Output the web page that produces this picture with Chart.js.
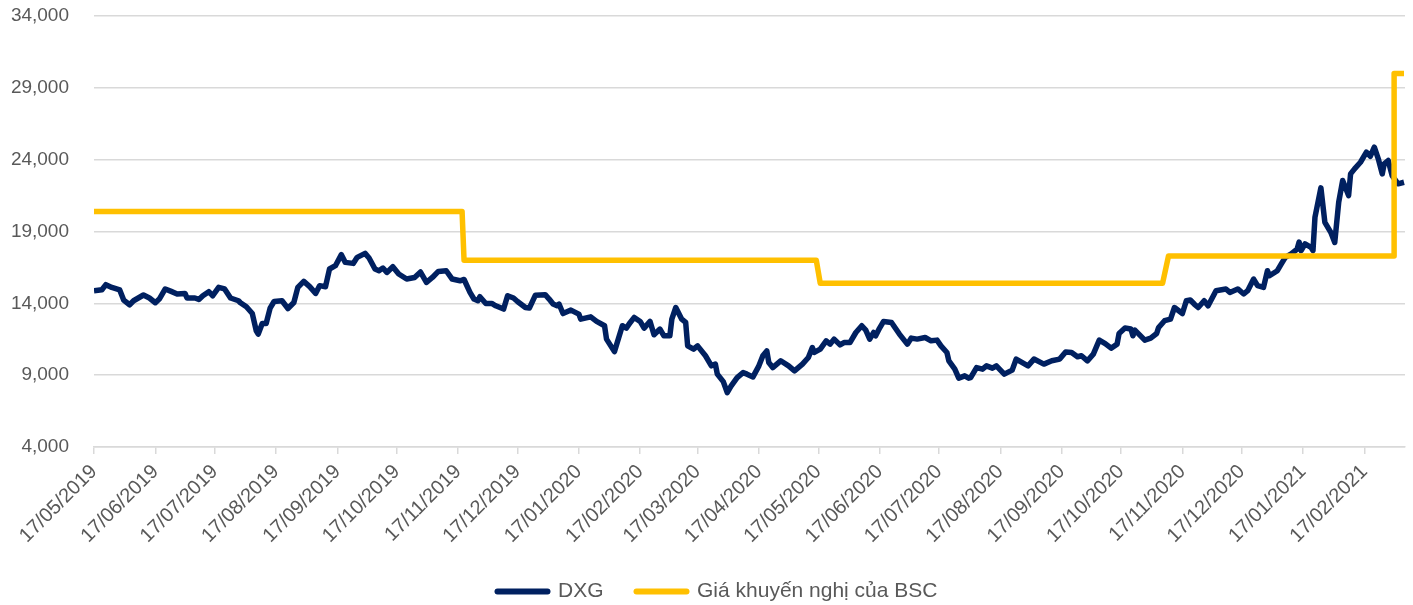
<!DOCTYPE html>
<html>
<head>
<meta charset="utf-8">
<script src="https://cdn.jsdelivr.net/npm/chart.js@4.4.1/dist/chart.umd.min.js"></script>
<style>
  html, body { margin:0; padding:0; background:#fff; }
  #wrap { position:relative; width:1413px; height:605px; }
</style>
</head>
<body>
<div id="wrap"><canvas id="chart"></canvas></div>
<script>
// x values are days counted from 17/05/2019
const dxgDays = [
  0,4,6,9,13,15,18,20,25,28,
  31,33,36,39,42,46,47,51,53,55,
  58,60,63,66,69,73,74,77,80,82,
  83,85,87,89,91,95,98,101,103,106,
  109,112,114,117,119,122,125,127,131,133,
  137,139,142,144,146,148,151,154,158,162,
  165,168,171,174,178,181,185,187,190,192,
  194,195,198,201,203,207,209,212,214,218,
  220,223,228,230,232,234,235,237,241,245,
  246,251,254,258,259,263,267,269,271,273,
  276,278,281,283,286,288,291,292,294,297,
  299,300,303,305,309,312,314,315,318,320,
  322,325,328,330,333,336,338,340,341,343,
  347,351,354,358,361,363,364,367,370,372,
  374,377,379,382,385,388,390,392,394,395,
  397,399,403,407,411,413,416,420,423,426,
  428,431,432,435,437,440,442,443,446,449,
  451,454,456,460,464,466,472,475,480,484,
  488,491,494,497,499,502,505,508,511,514,
  517,518,521,524,525,526,531,534,537,538,
  541,544,546,550,552,554,556,558,561,563,
  567,572,574,578,581,583,586,588,591,593,
  594,598,600,602,605,608,609,610,612,615,
  616,617,620,622,625,627,629,631,634,635,
  637,640,643,645,647,649,651,652,654,656,
  659,662
];
const dxgPrices = [
  14880,14950,15300,15110,14930,14230,13900,14180,14580,14370,
  14040,14300,15000,14830,14650,14690,14370,14370,14270,14530,
  14810,14530,15110,15000,14370,14180,14040,13760,13290,12090,
  11860,12600,12600,13670,14130,14180,13640,14060,15110,15530,
  15160,14690,15230,15160,16390,16620,17390,16850,16780,17200,
  17480,17160,16390,16270,16460,16150,16550,16040,15690,15800,
  16180,15460,15800,16220,16270,15690,15570,15660,14760,14300,
  14180,14460,13990,13990,13830,13600,14530,14370,14130,13710,
  13670,14560,14600,14300,13950,13830,13950,13290,13530,13250,
  12900,13060,12740,12440,11510,10640,12440,12280,12670,13020,
  12740,12280,12740,11810,12210,11740,11740,12900,13710,12900,
  12670,11040,10810,11040,10350,9650,9770,9070,8550,7790,
  8250,8830,9180,9070,8880,9650,10350,10690,9880,9530,
  10000,9650,9300,9770,10230,10920,10580,10810,11390,11160,
  11510,11110,11270,11270,11970,12440,12140,11510,11970,11740,
  12280,12740,12670,11860,11160,11580,11510,11620,11390,11440,
  11040,10580,10000,9420,8790,8950,8790,8830,9530,9420,
  9650,9490,9650,9070,9350,10120,9650,10120,9770,10000,
  10120,10620,10580,10280,10350,10000,10460,11440,11200,10880,
  11160,11900,12280,12210,11740,12140,11440,11580,11900,12320,
  12790,12900,13710,13290,14180,14230,13950,13710,14180,13830,
  14880,15000,14760,15000,14650,14880,15690,15230,15110,16270,
  15920,16270,16740,17200,17440,17780,18260,17670,18140,17900,
  17670,19990,22040,19640,18940,18240,21030,22550,21500,23010,
  23360,23820,24520,24240,24870,24060,23010,23710,23940,22890,
  22320,22430
];

// BSC target price (step line)
const bscDays   = [0, 186, 187, 365, 367, 540, 543, 657, 657, 662];
const bscPrices = [20400, 20400, 17000, 17000, 15400, 15400, 17300, 17300, 30000, 30000];

const tickLabels = [
  '17/05/2019','17/06/2019','17/07/2019','17/08/2019','17/09/2019','17/10/2019',
  '17/11/2019','17/12/2019','17/01/2020','17/02/2020','17/03/2020','17/04/2020',
  '17/05/2020','17/06/2020','17/07/2020','17/08/2020','17/09/2020','17/10/2020',
  '17/11/2020','17/12/2020','17/01/2021','17/02/2021'
];
const seriesNames = ['DXG', 'Giá khuyến nghị của BSC'];
const seriesColors = ['#002060', '#FFC000'];

function dayOf(label) {
  const [d, m, y] = label.split('/').map(Number);
  return Math.round((Date.UTC(y, m - 1, d) - Date.UTC(2019, 4, 17)) / 86400000);
}
const tickDays = tickLabels.map(dayOf);

const FONT = "'Liberation Sans', Arial, sans-serif";
const GRID = '#D9D9D9';
const TEXT = '#595959';

// nudge the legend a little right, as in the original
const legendShift = {
  id: 'legendShift',
  afterLayout(chart) {
    if (chart.legend) { chart.legend.left += 15; chart.legend.right += 15; }
  }
};

new Chart(document.getElementById('chart'), {
  type: 'line',
  plugins: [legendShift],
  data: {
    datasets: [
      {
        label: seriesNames[0],
        data: dxgDays.map((d, i) => ({ x: d, y: dxgPrices[i] })),
        borderColor: seriesColors[0],
        backgroundColor: seriesColors[0],
        borderWidth: 5.5,
        borderJoinStyle: 'round',
        pointRadius: 0,
        tension: 0,
        order: 1
      },
      {
        label: seriesNames[1],
        data: bscDays.map((d, i) => ({ x: d, y: bscPrices[i] })),
        borderColor: seriesColors[1],
        backgroundColor: seriesColors[1],
        borderWidth: 5.5,
        borderJoinStyle: 'round',
        pointRadius: 0,
        tension: 0,
        order: 0
      }
    ]
  },
  options: {
    responsive: true,
    maintainAspectRatio: false,
    animation: false,
    layout: { padding: { top: 16, right: 8, left: 0, bottom: -7 } },
    scales: {
      x: {
        type: 'linear',
        min: 0,
        max: 662.5,
        afterBuildTicks: (scale) => { scale.ticks = tickDays.map(v => ({ value: v })); },
        afterFit: (scale) => {
          scale.height = 101;
          scale.paddingLeft = 0; scale.paddingRight = 0;
          scale.paddingTop = 0; scale.paddingBottom = 0;
        },
        grid: { display: true, drawOnChartArea: false, drawTicks: true, tickLength: 7, color: GRID, lineWidth: 1.5 },
        border: { display: true, color: GRID, width: 1.5 },
        ticks: {
          autoSkip: false,
          minRotation: 45,
          maxRotation: 45,
          padding: 6,
          color: TEXT,
          font: { family: FONT, size: 20 },
          callback: (v, i) => tickLabels[i]
        }
      },
      y: {
        min: 4000,
        max: 34000,
        afterFit: (scale) => {
          scale.width = 94;
          scale.paddingTop = 0; scale.paddingBottom = 0;
        },
        grid: { color: GRID, lineWidth: 1.5, drawTicks: false },
        border: { display: false },
        ticks: {
          stepSize: 5000,
          padding: 25,
          color: TEXT,
          font: { family: FONT, size: 19 },
          callback: (v) => v.toLocaleString('en-US')
        }
      }
    },
    plugins: {
      tooltip: { enabled: false },
      legend: {
        position: 'bottom',
        labels: {
          usePointStyle: true,
          pointStyle: 'line',
          pointStyleWidth: 50,
          padding: 33,
          color: TEXT,
          font: { family: FONT, size: 21 },
          sort: (a, b) => a.datasetIndex - b.datasetIndex,
          generateLabels: (chart) => {
            const items = Chart.defaults.plugins.legend.labels.generateLabels(chart);
            items.forEach(it => { it.lineWidth = 6; it.lineCap = 'round'; });
            return items;
          }
        }
      }
    }
  }
});
</script>
</body>
</html>
